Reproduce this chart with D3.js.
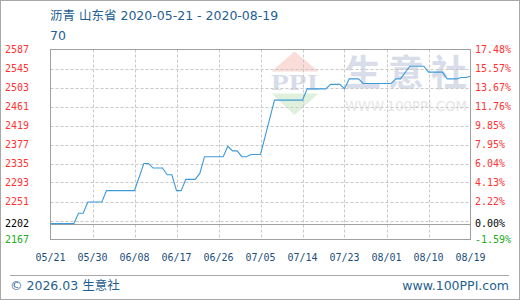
<!DOCTYPE html>
<html><head><meta charset="utf-8">
<script src="https://cdn.jsdelivr.net/npm/d3@7/dist/d3.min.js"></script>
<style>html,body{margin:0;padding:0;background:#fff;}svg{display:block;}</style>
</head><body>
<script>
// ---- data ----
const titleText = "沥青 山东省 2020-05-21 - 2020-08-19";
const subTitle = "70";
const dates = ["2020-05-21","2020-05-26","2020-05-27","2020-05-28","2020-05-29","2020-06-01","2020-06-02","2020-06-08",
  "2020-06-10","2020-06-11","2020-06-12","2020-06-14","2020-06-15","2020-06-16","2020-06-17","2020-06-18","2020-06-19",
  "2020-06-21","2020-06-22","2020-06-23","2020-06-27","2020-06-28","2020-06-29","2020-06-30","2020-07-01","2020-07-02",
  "2020-07-03","2020-07-05","2020-07-08","2020-07-14","2020-07-15","2020-07-19","2020-07-20","2020-07-22","2020-07-23",
  "2020-07-24","2020-07-26","2020-07-27","2020-08-02","2020-08-03","2020-08-04","2020-08-06","2020-08-09","2020-08-10",
  "2020-08-13","2020-08-14","2020-08-16","2020-08-17","2020-08-18","2020-08-19"];
const values = [2202,2202,2225,2225,2250,2250,2275,2275,
  2335,2335,2325,2325,2310,2310,2275,2275,2300,
  2300,2313,2350,2350,2373,2363,2363,2350,2350,
  2355,2355,2475,2475,2500,2500,2510,2510,2500,
  2522,2522,2512,2512,2522,2522,2550,2550,2537,
  2537,2522,2522,2525,2525,2528];
const yTickLabels = [2587,2545,2503,2461,2419,2377,2335,2293,2251];
const pctLabels = ["17.48%","15.57%","13.67%","11.76%","9.85%","7.95%","6.04%","4.13%","2.22%"];
const baseValue = 2202, basePct = "0.00%";
const minValue = 2167, minPct = "-1.59%";
const maxValue = 2587;
const xTickLabels = ["05/21","05/30","06/08","06/17","06/26","07/05","07/14","07/23","08/01","08/10","08/19"];
const startDate = "2020-05-21", endDate = "2020-08-19";

// ---- drawing ----
const W = 520, H = 300;
const L = 50.5, R = 470.5, T = 49.5, B = 239.5;
const svg = d3.select("body").append("svg").attr("width", W).attr("height", H);
svg.append("rect").attr("x",0).attr("y",0).attr("width",W).attr("height",H).attr("fill","#fff");
svg.append("rect").attr("x",0.5).attr("y",0.5).attr("width",W-1).attr("height",H-1)
  .attr("fill","none").attr("stroke","#a8a8a8");

const parse = d3.utcParse("%Y-%m-%d");
const x = d3.scaleUtc().domain([parse(startDate), parse(endDate)]).range([L, R]);
const y = d3.scaleLinear().domain([minValue, maxValue]).range([B, T]);

// watermark
const wm = svg.append("g");
wm.append("path").attr("d", `M294.5,51.5 L318.5,71.5 L271.5,71.5 Z`).attr("fill","#fadcd8");
wm.append("path").attr("d", `M271.5,93.5 L318.5,93.5 L294.5,115 Z`).attr("fill","#dff1dc");
wm.append("text").attr("x",271).attr("y",90).attr("font-family","Liberation Serif").attr("font-weight","bold")
  .attr("font-size",23).attr("textLength",47).attr("lengthAdjust","spacingAndGlyphs").attr("fill","#d6dce9").text("PPI");
wm.append("text").attr("x",345).attr("y",86).attr("font-family","Noto Sans CJK SC").attr("font-weight","bold")
  .attr("font-size",36).attr("textLength",122).attr("lengthAdjust","spacing").attr("fill","#d8dde9").text("生意社");
wm.append("text").attr("x",345).attr("y",111).attr("font-family","DejaVu Sans")
  .attr("font-size",14).attr("textLength",122).attr("lengthAdjust","spacingAndGlyphs").attr("fill","#e6e6e6").text("WWW.100PPI.COM");

// grid
const gridVals = d3.range(1,10).map(i => minValue + (maxValue-minValue)*i/10);
const g = svg.append("g");
g.selectAll("line.h").data(gridVals).join("line")
  .attr("x1",L).attr("x2",R).attr("y1",d=>Math.round(y(d))+0.5).attr("y2",d=>Math.round(y(d))+0.5)
  .attr("stroke","#c8c8c8").attr("stroke-dasharray","3,2");
const xTickDates = xTickLabels.map(s => parse("2020-" + s.replace("/","-")));
g.selectAll("line.v").data(xTickDates.slice(1,-1)).join("line")
  .attr("x1",d=>Math.round(x(d))+0.5).attr("x2",d=>Math.round(x(d))+0.5).attr("y1",T).attr("y2",B)
  .attr("stroke","#c8c8c8").attr("stroke-dasharray","3,2");
// base line
g.append("line").attr("x1",L).attr("x2",R).attr("y1",Math.round(y(baseValue))+0.5).attr("y2",Math.round(y(baseValue))+0.5)
  .attr("stroke","#a0a0a0");
// frame
g.append("rect").attr("x",L).attr("y",T).attr("width",R-L).attr("height",B-T).attr("fill","none").attr("stroke","#a0a0a0");

// line
const pts = dates.map((d,i)=>({d:parse(d), v:values[i]}));
svg.append("path").datum(pts).attr("fill","none").attr("stroke","#3d9bd9").attr("stroke-width",1.1)
  .attr("d", d3.line().x(p=>x(p.d)).y(p=>y(p.v)));

// y labels
const lab = svg.append("g").attr("font-family","DejaVu Sans Mono").attr("font-size",10);
lab.selectAll("text.l").data(yTickLabels).join("text").attr("x",5).attr("y",d=>y(d)).attr("dy","0.35em")
  .attr("fill","#ff3333").text(d=>d);
lab.selectAll("text.r").data(yTickLabels).join("text").attr("x",475).attr("y",d=>y(d)).attr("dy","0.35em")
  .attr("fill","#ff3333").text((d,i)=>pctLabels[i]);
lab.append("text").attr("x",5).attr("y",y(baseValue)).attr("dy","0.35em").attr("fill","#000").text(baseValue);
lab.append("text").attr("x",475).attr("y",y(baseValue)).attr("dy","0.35em").attr("fill","#000").text(basePct);
lab.append("text").attr("x",5).attr("y",y(minValue)).attr("dy","0.35em").attr("fill","#22aa22").text(minValue);
lab.append("text").attr("x",475).attr("y",y(minValue)).attr("dy","0.35em").attr("fill","#22aa22").text(minPct);

// x labels
lab.selectAll("text.x").data(xTickDates).join("text").attr("x",d=>x(d)).attr("y",261)
  .attr("text-anchor","middle").attr("fill","#1e4f7a").text((d,i)=>xTickLabels[i]);

// title
const tf = "'DejaVu Sans','Noto Sans CJK SC'";
svg.append("text").attr("x",50).attr("y",19.5).attr("font-family",tf).attr("font-size",12.5).attr("fill","#1f6094").text(titleText);
svg.append("text").attr("x",50).attr("y",39.5).attr("font-family",tf).attr("font-size",12.5).attr("fill","#1f6094").text(subTitle);

// footer
svg.append("line").attr("x1",10).attr("x2",509).attr("y1",275.5).attr("y2",275.5).attr("stroke","#a8a8a8");
svg.append("text").attr("x",10).attr("y",290).attr("font-family",tf).attr("font-size",12.5).attr("fill","#1f5f90").text("© 2026.03 生意社");
svg.append("text").attr("x",509).attr("y",290).attr("text-anchor","end").attr("font-family",tf).attr("font-size",12.5).attr("fill","#1f5f90").text("www.100PPI.com");
</script>
</body></html>
